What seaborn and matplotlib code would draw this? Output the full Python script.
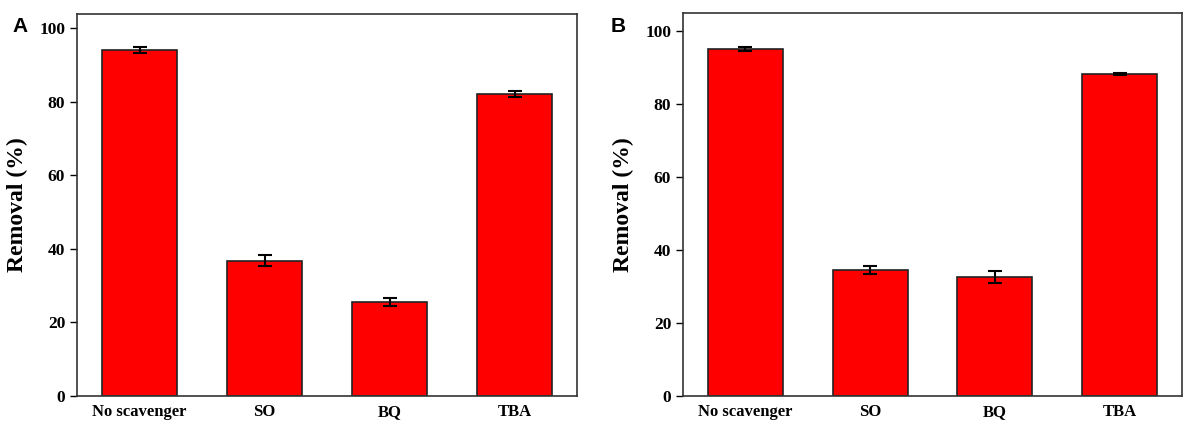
import numpy as np
import pandas as pd
import matplotlib
matplotlib.use("Agg")
import matplotlib.pyplot as plt
import seaborn as sns

categories = ["No scavenger", "SO", "BQ", "TBA"]
removal_a = [94.0, 36.8, 25.5, 82.1]
err_a = [0.7, 1.5, 1.0, 0.8]
removal_b = [94.9, 34.5, 32.5, 88.1]
err_b = [0.5, 1.0, 1.6, 0.3]

sns.set_style("ticks")
plt.rcParams["font.family"] = ["Liberation Serif", "DejaVu Serif"]
plt.rcParams["font.weight"] = "bold"
plt.rcParams["text.color"] = "black"
plt.rcParams["axes.labelcolor"] = "black"
plt.rcParams["xtick.color"] = "black"
plt.rcParams["ytick.color"] = "black"

fig = plt.figure(figsize=(11.91, 4.21), dpi=100)
W, H = 1191, 421
ax_a = fig.add_axes([77 / W, 1 - 396 / H, 500 / W, 382 / H])
ax_b = fig.add_axes([683 / W, 1 - 396 / H, 499 / W, 383 / H])


def draw(ax, vals, errs, ytop):
    df = pd.DataFrame({"cat": categories, "val": vals})
    sns.barplot(data=df, x="cat", y="val", ax=ax, color="#ff0000",
                saturation=1, width=0.6, edgecolor="#222222", linewidth=1.2,
                errorbar=None)
    ax.errorbar(np.arange(len(vals)), vals, yerr=errs, fmt="none",
                ecolor="black", elinewidth=1.5, capsize=5, capthick=1.5)
    ax.set_xlim(-0.5, 3.5)
    ax.set_ylim(0, ytop)
    ax.set_yticks([0, 20, 40, 60, 80, 100])
    ax.set_xlabel("")
    ax.set_ylabel("Removal (%)", fontsize=17, fontweight="bold", labelpad=8)
    ax.tick_params(axis="y", labelsize=12.5, length=5, width=1, direction="out")
    ax.tick_params(axis="x", labelsize=12, length=0, pad=6)
    for lab in ax.get_xticklabels() + ax.get_yticklabels():
        lab.set_fontweight("bold")
    for s in ax.spines.values():
        s.set_visible(True)
        s.set_color("#333333")
        s.set_linewidth(1.2)


draw(ax_a, removal_a, err_a, 103.8)
draw(ax_b, removal_b, err_b, 104.8)

for lx, label in [(12, "A"), (611, "B")]:
    fig.text(lx / W, 1 - 27 / H, label, fontsize=15, fontweight="bold",
             family=["Liberation Sans", "DejaVu Sans"], va="center", ha="left")

fig.savefig("out.png", dpi=100)
